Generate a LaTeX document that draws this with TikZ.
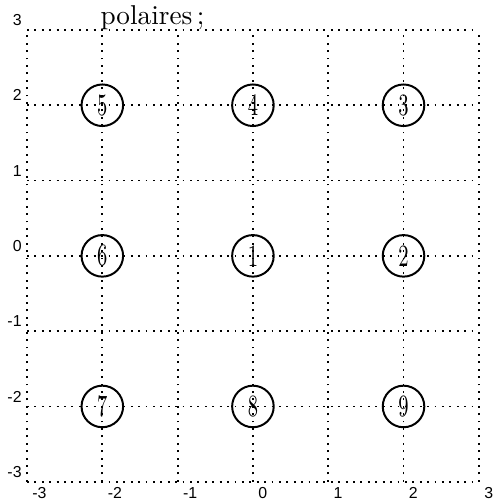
\documentclass[tikz,border=0pt]{standalone}
\usepackage{fontspec}
\usepackage{graphicx}
\newfontfamily\ticksfont{Liberation Sans}
\tikzset{
  gridline/.style={line width=0.7pt, dash pattern=on 0.7pt off 2.1pt},
  cellnode/.style={circle, draw, line width=0.75pt, minimum size=0.552cm, inner sep=0pt, font=\fontsize{9}{10}\selectfont},
  xtick/.style={anchor=north west, inner sep=0pt, font=\ticksfont\fontsize{6}{7}\selectfont},
  ytick/.style={anchor=south east, inner sep=0pt, font=\ticksfont\fontsize{6}{7}\selectfont},
}
\newcommand{\tallnum}[1]{\scalebox{0.84}[1.3]{#1}}
\begin{document}
\begin{tikzpicture}
\useasboundingbox (-3.359,-3.229) rectangle (3.201,3.398);
% grid
\foreach \k in {-3,...,3} {
  \draw[gridline] (\k,-3) -- (\k,3);
  \draw[gridline] (-3,\k) -- (3,\k);
}
% tick labels
\foreach \k in {-3,...,3} {
  \node[xtick] (xl\k) at (\k+0.065,-3.065) {\k};
  \node[ytick] (yl\k) at (-3.065,\k+0.05) {\k};
}
% caption fragment
\node[anchor=base west, inner sep=0pt, font=\fontsize{10.3}{12}\selectfont] (cap) at (-2.03,3.066) {polaires\,;};
% numbered cells
\node[cellnode] (n5) at (-2,2) {\tallnum{5}};
\node[cellnode] (n4) at (0,2) {\tallnum{4}};
\node[cellnode] (n3) at (2,2) {\tallnum{3}};
\node[cellnode] (n6) at (-2,0) {\tallnum{6}};
\node[cellnode] (n1) at (0,0) {\tallnum{1}};
\node[cellnode] (n2) at (2,0) {\tallnum{2}};
\node[cellnode] (n7) at (-2,-2) {\tallnum{7}};
\node[cellnode] (n8) at (0,-2) {\tallnum{8}};
\node[cellnode] (n9) at (2,-2) {\tallnum{9}};
\end{tikzpicture}
\end{document}
